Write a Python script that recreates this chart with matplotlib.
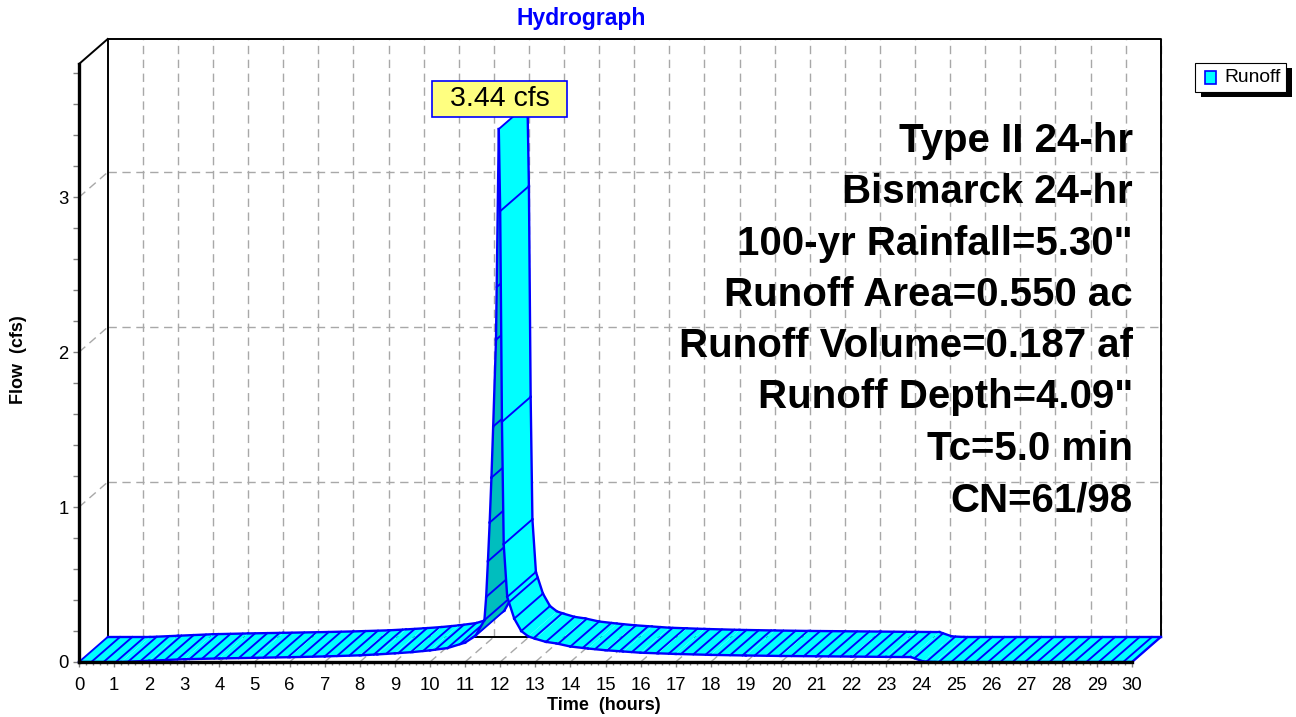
import numpy as np
import matplotlib
matplotlib.use('Agg')
import matplotlib.pyplot as plt
from matplotlib.patches import Polygon, Rectangle
from matplotlib.transforms import Affine2D, ScaledTranslation
from matplotlib.ticker import MultipleLocator

plt.rcParams['font.family'] = ['Liberation Sans', 'DejaVu Sans']

# runoff hydrograph (hours, cfs) - finer steps around the peak
time_hr = [0.0, 1.2, 2.0, 3.0, 4.0, 5.0, 6.0, 7.0, 8.0, 8.5, 9.0, 9.5, 10.0,
           10.5, 11.0, 11.3, 11.55, 11.60, 11.65, 11.70, 11.75, 11.80, 11.88,
           11.96, 12.00, 12.05, 12.10, 12.20, 12.40, 12.60, 12.80, 13.0, 13.3,
           13.6, 14.0, 14.5, 15.0, 15.5, 16.0, 16.5, 17.0, 18.0, 19.0, 20.0,
           21.0, 22.0, 23.0, 23.7, 24.05, 24.4, 30.0]
flow_cfs = [0.0, 0.0, 0.008, 0.018, 0.023, 0.027, 0.031, 0.036, 0.043, 0.049,
            0.056, 0.064, 0.075, 0.090, 0.125, 0.17, 0.27, 0.42, 0.65, 0.90,
            1.19, 1.52, 2.08, 3.44, 2.91, 1.55, 0.76, 0.42, 0.28, 0.20, 0.165,
            0.15, 0.13, 0.12, 0.10, 0.087, 0.076, 0.068, 0.060, 0.056, 0.052,
            0.046, 0.042, 0.039, 0.037, 0.035, 0.033, 0.032, 0.004, 0.0, 0.0]

info_lines = ['Type II 24-hr', 'Bismarck 24-hr', '100-yr Rainfall=5.30"',
              'Runoff Area=0.550 ac', 'Runoff Volume=0.187 af',
              'Runoff Depth=4.09"', 'Tc=5.0 min', 'CN=61/98']

W, H = 1296, 717
fig = plt.figure(figsize=(W / 100, H / 100), dpi=100)
# pixel coords (origin top left) for placing the loose texts / legend
px = Affine2D().scale(1.0 / W, -1.0 / H).translate(0, 1) + fig.transFigure

ax = fig.add_axes([79 / W, 1 - 662 / H, (1132 - 79) / W, (662 - 64) / H])
xmax, ymax = 30, 3.86
ax.set_xlim(0, xmax)
ax.set_ylim(0, ymax)

# depth of the 3d box in data units (28.7 px right, 25 px up)
dx = 28.7 / (ax.bbox.width / xmax)
dy = 25.0 / (ax.bbox.height / ymax)

BLUE = '#0000FF'

# back wall grid, floor and left wall depth lines
gkw = dict(color='#A8A8A8', lw=1.0, ls=(0, (6, 4)), clip_on=False, zorder=1)
for tt in range(1, xmax + 1):
    ax.plot([tt + dx, tt + dx], [dy, ymax + dy], **gkw)
    ax.plot([tt, tt + dx], [0, dy], **gkw)
for qq in [1, 2, 3]:
    ax.plot([dx, xmax + dx], [qq + dy, qq + dy], **gkw)
    ax.plot([0, dx], [qq, qq + dy], **gkw)

# back frame
fkw = dict(color='black', lw=1.4, clip_on=False, zorder=1.5)
ax.plot([dx, dx, xmax + dx, xmax + dx], [dy, ymax + dy, ymax + dy, dy], **fkw)
ax.plot([dx, xmax + dx], [dy, dy], **fkw)
ax.plot([0, dx], [ymax, ymax + dy], **fkw)

# 3d ribbon
t = np.array(time_hr)
q = np.array(flow_cfs)
px_per_cfs = ax.bbox.height / ymax
hatch = set(np.round(np.arange(0, xmax, 0.35), 3))
for i in range(len(t) - 1):
    if abs(q[i + 1] - q[i]) * px_per_cfs > 12:
        hatch.add(t[i])
        hatch.add(t[i + 1])
hatch = np.array(sorted(hatch))

for i in range(len(t) - 1):
    t0, t1, q0, q1 = t[i], t[i + 1], q[i], q[i + 1]
    quad = [(t0, q0), (t1, q1), (t1 + dx, q1 + dy), (t0 + dx, q0 + dy)]
    p = ax.transData.transform(quad)
    area = np.sum(p[:, 0] * np.roll(p[:, 1], -1) - np.roll(p[:, 0], -1) * p[:, 1])
    face = '#00FFFF' if area > 0 else '#00BEBE'
    ax.add_patch(Polygon(quad, closed=True, fc=face, ec='none',
                         clip_on=False, zorder=3))
    for th in hatch[(hatch >= t0) & (hatch < t1)]:
        qh = q0 + (q1 - q0) * (th - t0) / (t1 - t0)
        ax.plot([th, th + dx], [qh, qh + dy], color=BLUE, lw=1.35,
                clip_on=False, zorder=3)
    ax.plot([t0, t1], [q0, q1], color=BLUE, lw=1.7, clip_on=False, zorder=3)
    ax.plot([t0 + dx, t1 + dx], [q0 + dy, q1 + dy], color=BLUE, lw=1.7,
            clip_on=False, zorder=3)
ax.plot([t[-1], t[-1] + dx], [q[-1], q[-1] + dy], color=BLUE, lw=1.7,
        clip_on=False, zorder=3)

# front axes
for s in ['top', 'right']:
    ax.spines[s].set_visible(False)
for s in ['left', 'bottom']:
    ax.spines[s].set_linewidth(2.4)
    ax.spines[s].set_zorder(4)
ax.set_facecolor('none')
ax.xaxis.set_major_locator(MultipleLocator(1))
ax.xaxis.set_minor_locator(MultipleLocator(0.2))
ax.yaxis.set_major_locator(MultipleLocator(1))
ax.yaxis.set_minor_locator(MultipleLocator(0.2))
ax.tick_params(which='both', direction='out', color='#808080', width=1.0,
               labelsize=13.3)
ax.tick_params(axis='x', which='major', length=3.6, pad=7.4)
ax.tick_params(axis='x', which='minor', length=2.2)
ax.tick_params(axis='y', which='both', length=4.5, pad=3)

# peak label
ipk = int(np.argmax(q))
box_tr = fig.dpi_scale_trans + ScaledTranslation(t[ipk], q[ipk], ax.transData)
ax.add_patch(Rectangle((-0.665, 0.125), 1.35, 0.36, transform=box_tr,
                       fc='#FFFF80', ec=BLUE, lw=1.2, clip_on=False, zorder=5))
ax.text(0.01, 0.305, '%.2f cfs' % q[ipk], transform=box_tr, ha='center',
        va='center', fontsize=20.5, zorder=6)

# storm / watershed info
for i, line in enumerate(info_lines):
    fig.text(1133, 152 + 51.3 * i, line, transform=px, ha='right',
             va='baseline', fontsize=29, fontweight='bold', zorder=6)

# legend
fig.patches.append(Rectangle((1201, 68), 91, 29, transform=px, fc='black',
                             ec='none'))
fig.patches.append(Rectangle((1195, 63), 91, 29, transform=px, fc='white',
                             ec='black', lw=0.8))
fig.patches.append(Rectangle((1205, 71), 11, 13, transform=px, fc='#00FFFF',
                             ec=BLUE, lw=1.2))
fig.text(1224, 78, 'Runoff', transform=px, ha='left', va='center',
         fontsize=13.9)

fig.text(581, 18, 'Hydrograph', transform=px, ha='center', va='center',
         color=BLUE, fontsize=16.5, fontweight='bold')
fig.text(604, 705, 'Time  (hours)', transform=px, ha='center', va='center',
         fontsize=13, fontweight='bold')
fig.text(19, 360, 'Flow  (cfs)', transform=px, ha='center', va='center',
         rotation=90, fontsize=13, fontweight='bold')

fig.savefig('out.png', dpi=100)
